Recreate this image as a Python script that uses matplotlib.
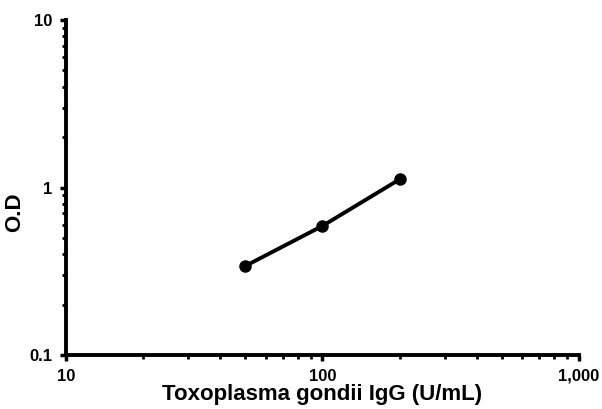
import matplotlib.pyplot as plt
from matplotlib.ticker import LogLocator, NullFormatter

plt.rcParams["font.family"] = ["Liberation Sans", "DejaVu Sans"]
plt.rcParams["font.weight"] = "bold"

conc = [50, 100, 200]
od = [0.34, 0.59, 1.12]

x_ticks = [10, 100, 1000]
x_labels = ["10", "100", "1,000"]
y_ticks = [0.1, 1, 10]
y_labels = ["0.1", "1", "10"]

fig = plt.figure(figsize=(6.02, 4.09), dpi=100)
ax = fig.add_axes([0.1096, 0.132, 0.8522, 0.819])

ax.plot(conc, od, color="black", linewidth=2.8, marker="o", markersize=8,
        zorder=3, clip_on=False)

ax.set_xscale("log")
ax.set_yscale("log")
ax.set_xlim(10, 1000)
ax.set_ylim(0.1, 10)

ax.set_xticks(x_ticks)
ax.set_xticklabels(x_labels)
ax.set_yticks(y_ticks)
ax.set_yticklabels(y_labels)
ax.xaxis.set_minor_locator(LogLocator(base=10, subs=range(2, 10)))
ax.yaxis.set_minor_locator(LogLocator(base=10, subs=range(2, 10)))
ax.xaxis.set_minor_formatter(NullFormatter())
ax.yaxis.set_minor_formatter(NullFormatter())

ax.tick_params(which="major", length=4, width=2.5, labelsize=12, pad=6)
ax.tick_params(which="minor", length=3, width=2)

for s in ["top", "right"]:
    ax.spines[s].set_visible(False)
for s in ["left", "bottom"]:
    ax.spines[s].set_linewidth(2.8)

ax.set_xlabel("Toxoplasma gondii IgG (U/mL)", fontsize=16, fontweight="bold",
              labelpad=0)
ax.set_ylabel("O.D", fontsize=16, fontweight="bold")
ax.yaxis.set_label_coords(-0.08, 0.427)

fig.savefig("out.png", dpi=100)
